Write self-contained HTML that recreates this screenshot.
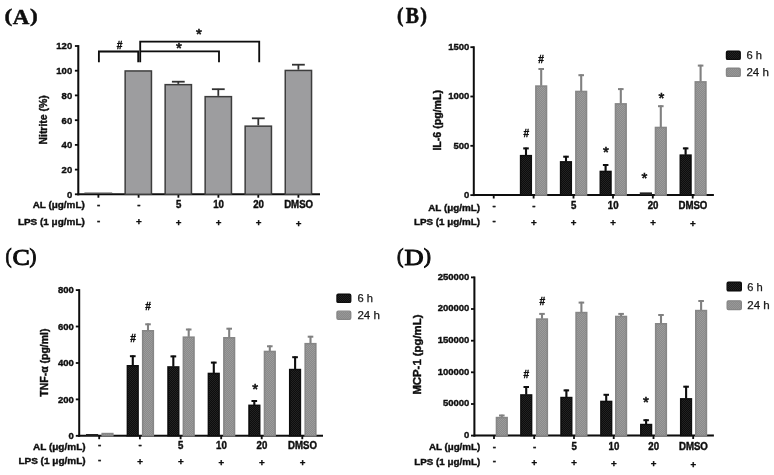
<!DOCTYPE html>
<html><head><meta charset="utf-8"><title>Figure</title>
<style>html,body{margin:0;padding:0;background:#fff}svg{display:block}text{fill:#0c0c0c;stroke:#0c0c0c;stroke-width:0.38px}</style></head>
<body><svg width="774" height="475" viewBox="0 0 774 475">
<rect width="774" height="475" fill="#fff"/>
<defs>
<filter id="soft" x="0" y="0" width="774" height="475" filterUnits="userSpaceOnUse"><feGaussianBlur stdDeviation="0.42"/></filter>
<pattern id="pg" width="2" height="2" patternUnits="userSpaceOnUse"><rect width="2" height="2" fill="#8a8a8a"/><rect width="1" height="1" fill="#9b9b9b"/><rect x="1" y="1" width="1" height="1" fill="#9b9b9b"/></pattern>
<pattern id="pg2" width="2" height="2" patternUnits="userSpaceOnUse"><rect width="2" height="2" fill="#8a8a8a"/><rect width="1" height="1" fill="#979797"/><rect x="1" y="1" width="1" height="1" fill="#979797"/></pattern>
<pattern id="pk" width="2" height="2" patternUnits="userSpaceOnUse"><rect width="2" height="2" fill="#0d0d0d"/><rect width="1" height="1" fill="#222222"/><rect x="1" y="1" width="1" height="1" fill="#222222"/></pattern>
</defs>
<g filter="url(#soft)">
<text transform="translate(4.57,22.39) scale(1.1678,0.9650)" font-size="20.0" font-weight="bold" font-family="'Liberation Serif', serif" style="stroke-width:0.45px">(</text>
<text transform="translate(12.87,24.40) scale(1.1489,1.0982)" font-size="20.0" font-weight="bold" font-family="'Liberation Serif', serif" style="stroke-width:0.45px">A</text>
<text transform="translate(30.05,22.39) scale(1.1678,0.9650)" font-size="20.0" font-weight="bold" font-family="'Liberation Serif', serif" style="stroke-width:0.45px">)</text>
<text transform="translate(397.05,22.39) scale(0.9731,1.0367)" font-size="20.0" font-weight="bold" font-family="'Liberation Serif', serif" style="stroke-width:0.45px">(</text>
<text transform="translate(405.67,23.33) scale(0.9878,1.1327)" font-size="20.0" font-weight="bold" font-family="'Liberation Serif', serif" style="stroke-width:0.45px">B</text>
<text transform="translate(420.25,22.39) scale(1.0121,1.0367)" font-size="20.0" font-weight="bold" font-family="'Liberation Serif', serif" style="stroke-width:0.45px">)</text>
<text transform="translate(5.40,262.67) scale(0.9148,1.0643)" font-size="20.0" font-weight="normal" font-family="'Liberation Serif', serif" style="stroke-width:0.85px">(</text>
<text transform="translate(12.44,264.67) scale(1.2964,1.1758)" font-size="20.0" font-weight="normal" font-family="'Liberation Serif', serif" style="stroke-width:0.85px">C</text>
<text transform="translate(29.44,262.67) scale(1.0315,1.0643)" font-size="20.0" font-weight="normal" font-family="'Liberation Serif', serif" style="stroke-width:0.85px">)</text>
<text transform="translate(397.05,262.67) scale(0.9731,1.0643)" font-size="20.0" font-weight="normal" font-family="'Liberation Serif', serif" style="stroke-width:0.85px">(</text>
<text transform="translate(404.54,264.85) scale(1.3240,1.1876)" font-size="20.0" font-weight="normal" font-family="'Liberation Serif', serif" style="stroke-width:0.85px">D</text>
<text transform="translate(423.70,262.67) scale(1.0899,1.0643)" font-size="20.0" font-weight="normal" font-family="'Liberation Serif', serif" style="stroke-width:0.85px">)</text>
<line x1="78.3" y1="45.1" x2="78.3" y2="195.3" stroke="#0a0a0a" stroke-width="2.0"/>
<line x1="77.3" y1="194.3" x2="320.0" y2="194.3" stroke="#0a0a0a" stroke-width="2.0"/>
<line x1="74.9" y1="194.3" x2="78.3" y2="194.3" stroke="#0a0a0a" stroke-width="1.8"/>
<text x="72.2" y="197.6" font-size="9.5" text-anchor="end" font-weight="bold" font-family="'Liberation Sans', sans-serif" >0</text>
<line x1="74.9" y1="169.6" x2="78.3" y2="169.6" stroke="#0a0a0a" stroke-width="1.8"/>
<text x="72.2" y="172.9" font-size="9.5" text-anchor="end" font-weight="bold" font-family="'Liberation Sans', sans-serif" >20</text>
<line x1="74.9" y1="144.9" x2="78.3" y2="144.9" stroke="#0a0a0a" stroke-width="1.8"/>
<text x="72.2" y="148.2" font-size="9.5" text-anchor="end" font-weight="bold" font-family="'Liberation Sans', sans-serif" >40</text>
<line x1="74.9" y1="120.2" x2="78.3" y2="120.2" stroke="#0a0a0a" stroke-width="1.8"/>
<text x="72.2" y="123.5" font-size="9.5" text-anchor="end" font-weight="bold" font-family="'Liberation Sans', sans-serif" >60</text>
<line x1="74.9" y1="95.4" x2="78.3" y2="95.4" stroke="#0a0a0a" stroke-width="1.8"/>
<text x="72.2" y="98.8" font-size="9.5" text-anchor="end" font-weight="bold" font-family="'Liberation Sans', sans-serif" >80</text>
<line x1="74.9" y1="70.7" x2="78.3" y2="70.7" stroke="#0a0a0a" stroke-width="1.8"/>
<text x="72.2" y="74.0" font-size="9.5" text-anchor="end" font-weight="bold" font-family="'Liberation Sans', sans-serif" >100</text>
<line x1="74.9" y1="46.0" x2="78.3" y2="46.0" stroke="#0a0a0a" stroke-width="1.8"/>
<text x="72.2" y="49.3" font-size="9.5" text-anchor="end" font-weight="bold" font-family="'Liberation Sans', sans-serif" >120</text>
<line x1="98.4" y1="194.3" x2="98.4" y2="197.7" stroke="#0a0a0a" stroke-width="1.8"/>
<line x1="138.6" y1="194.3" x2="138.6" y2="197.7" stroke="#0a0a0a" stroke-width="1.8"/>
<line x1="178.4" y1="194.3" x2="178.4" y2="197.7" stroke="#0a0a0a" stroke-width="1.8"/>
<line x1="218.4" y1="194.3" x2="218.4" y2="197.7" stroke="#0a0a0a" stroke-width="1.8"/>
<line x1="258.3" y1="194.3" x2="258.3" y2="197.7" stroke="#0a0a0a" stroke-width="1.8"/>
<line x1="298.4" y1="194.3" x2="298.4" y2="197.7" stroke="#0a0a0a" stroke-width="1.8"/>
<text x="84.8" y="207.9" font-size="9.3" text-anchor="end" font-weight="bold" font-family="'Liberation Sans', sans-serif" textLength="52.1" lengthAdjust="spacingAndGlyphs">AL (&#956;g/mL)</text>
<text x="84.8" y="224.8" font-size="9.3" text-anchor="end" font-weight="bold" font-family="'Liberation Sans', sans-serif" textLength="66.9" lengthAdjust="spacingAndGlyphs">LPS (1 &#956;g/mL)</text>
<text x="98.7" y="207.6" font-size="9.7" text-anchor="middle" font-weight="bold" font-family="'Liberation Sans', sans-serif" >-</text>
<text x="98.7" y="223.8" font-size="9.7" text-anchor="middle" font-weight="bold" font-family="'Liberation Sans', sans-serif" >-</text>
<text x="138.9" y="207.6" font-size="9.7" text-anchor="middle" font-weight="bold" font-family="'Liberation Sans', sans-serif" >-</text>
<text x="138.8" y="225.3" font-size="9.7" text-anchor="middle" font-weight="bold" font-family="'Liberation Sans', sans-serif" >+</text>
<text transform="translate(178.6,208.0) scale(0.995,1.075)" font-size="9.7" text-anchor="middle" font-weight="bold" font-family="'Liberation Sans', sans-serif">5</text>
<text x="178.6" y="225.5" font-size="9.7" text-anchor="middle" font-weight="bold" font-family="'Liberation Sans', sans-serif" >+</text>
<text transform="translate(218.6,208.0) scale(0.995,1.075)" font-size="9.7" text-anchor="middle" font-weight="bold" font-family="'Liberation Sans', sans-serif">10</text>
<text x="218.6" y="225.8" font-size="9.7" text-anchor="middle" font-weight="bold" font-family="'Liberation Sans', sans-serif" >+</text>
<text transform="translate(258.5,208.0) scale(0.995,1.075)" font-size="9.7" text-anchor="middle" font-weight="bold" font-family="'Liberation Sans', sans-serif">20</text>
<text x="258.5" y="226.1" font-size="9.7" text-anchor="middle" font-weight="bold" font-family="'Liberation Sans', sans-serif" >+</text>
<text transform="translate(298.6,208.0) scale(0.995,1.075)" font-size="9.7" text-anchor="middle" font-weight="bold" font-family="'Liberation Sans', sans-serif">DMSO</text>
<text x="298.6" y="226.5" font-size="9.7" text-anchor="middle" font-weight="bold" font-family="'Liberation Sans', sans-serif" >+</text>
<text transform="translate(47.1,119.9) rotate(-90)" font-size="10.4" text-anchor="middle" font-weight="bold" font-family="'Liberation Sans', sans-serif" textLength="49.3" lengthAdjust="spacingAndGlyphs">Nitrite (%)</text>
<line x1="84.4" y1="193.0" x2="112.2" y2="193.0" stroke="#555" stroke-width="1.0"/>
<rect x="125.15" y="70.95" width="26.30" height="123.35" fill="#9d9d9f" stroke="#3e3e3e" stroke-width="1.5"/>
<line x1="178.3" y1="81.4" x2="178.3" y2="83.9" stroke="#333" stroke-width="1.8"/>
<line x1="171.9" y1="81.7" x2="184.7" y2="81.7" stroke="#333" stroke-width="1.8"/>
<rect x="165.15" y="84.65" width="26.30" height="109.65" fill="#9d9d9f" stroke="#3e3e3e" stroke-width="1.5"/>
<line x1="218.3" y1="88.9" x2="218.3" y2="95.9" stroke="#333" stroke-width="1.8"/>
<line x1="211.9" y1="89.2" x2="224.7" y2="89.2" stroke="#333" stroke-width="1.8"/>
<rect x="205.15" y="96.65" width="26.30" height="97.65" fill="#9d9d9f" stroke="#3e3e3e" stroke-width="1.5"/>
<line x1="258.3" y1="118.0" x2="258.3" y2="125.4" stroke="#333" stroke-width="1.8"/>
<line x1="251.9" y1="118.3" x2="264.7" y2="118.3" stroke="#333" stroke-width="1.8"/>
<rect x="245.15" y="126.15" width="26.30" height="68.15" fill="#9d9d9f" stroke="#3e3e3e" stroke-width="1.5"/>
<line x1="298.4" y1="64.4" x2="298.4" y2="69.7" stroke="#333" stroke-width="1.8"/>
<line x1="292.0" y1="64.7" x2="304.8" y2="64.7" stroke="#333" stroke-width="1.8"/>
<rect x="285.25" y="70.45" width="26.30" height="123.85" fill="#9d9d9f" stroke="#3e3e3e" stroke-width="1.5"/>
<path d="M98.9 62.2V51.5H138.2V62.2" fill="none" stroke="#0a0a0a" stroke-width="1.85"/>
<path d="M219 62.2V51.4H140.2" fill="none" stroke="#0a0a0a" stroke-width="1.85"/>
<path d="M140.2 62.2V41.6H259.2V62.2" fill="none" stroke="#0a0a0a" stroke-width="1.85"/>
<text x="119.6" y="48.6" font-size="10.2" text-anchor="middle" font-weight="bold" font-family="'Liberation Sans', sans-serif" >#</text>
<text x="178.8" y="52.7" font-size="15" text-anchor="middle" font-weight="normal" font-family="'Liberation Sans', sans-serif" style="stroke-width:0.6px">*</text>
<text x="198.9" y="39.1" font-size="15" text-anchor="middle" font-weight="normal" font-family="'Liberation Sans', sans-serif" style="stroke-width:0.6px">*</text>
<line x1="473.8" y1="46.3" x2="473.8" y2="196.1" stroke="#0a0a0a" stroke-width="2.0"/>
<line x1="472.8" y1="195.1" x2="713.9" y2="195.1" stroke="#0a0a0a" stroke-width="2.0"/>
<line x1="470.4" y1="195.1" x2="473.8" y2="195.1" stroke="#0a0a0a" stroke-width="1.8"/>
<text x="469.4" y="197.9" font-size="9.5" text-anchor="end" font-weight="bold" font-family="'Liberation Sans', sans-serif" >0</text>
<line x1="470.4" y1="145.8" x2="473.8" y2="145.8" stroke="#0a0a0a" stroke-width="1.8"/>
<text x="469.4" y="148.6" font-size="9.5" text-anchor="end" font-weight="bold" font-family="'Liberation Sans', sans-serif" >500</text>
<line x1="470.4" y1="96.5" x2="473.8" y2="96.5" stroke="#0a0a0a" stroke-width="1.8"/>
<text x="469.4" y="99.3" font-size="9.5" text-anchor="end" font-weight="bold" font-family="'Liberation Sans', sans-serif" >1000</text>
<line x1="470.4" y1="47.2" x2="473.8" y2="47.2" stroke="#0a0a0a" stroke-width="1.8"/>
<text x="469.4" y="50.0" font-size="9.5" text-anchor="end" font-weight="bold" font-family="'Liberation Sans', sans-serif" >1500</text>
<line x1="493.7" y1="195.1" x2="493.7" y2="198.5" stroke="#0a0a0a" stroke-width="1.8"/>
<line x1="533.6" y1="195.1" x2="533.6" y2="198.5" stroke="#0a0a0a" stroke-width="1.8"/>
<line x1="573.5" y1="195.1" x2="573.5" y2="198.5" stroke="#0a0a0a" stroke-width="1.8"/>
<line x1="613.0" y1="195.1" x2="613.0" y2="198.5" stroke="#0a0a0a" stroke-width="1.8"/>
<line x1="652.8" y1="195.1" x2="652.8" y2="198.5" stroke="#0a0a0a" stroke-width="1.8"/>
<line x1="692.7" y1="195.1" x2="692.7" y2="198.5" stroke="#0a0a0a" stroke-width="1.8"/>
<text x="480.1" y="210.5" font-size="9.3" text-anchor="end" font-weight="bold" font-family="'Liberation Sans', sans-serif" textLength="51.9" lengthAdjust="spacingAndGlyphs">AL (&#956;g/mL)</text>
<text x="480.1" y="224.7" font-size="9.3" text-anchor="end" font-weight="bold" font-family="'Liberation Sans', sans-serif" textLength="66.1" lengthAdjust="spacingAndGlyphs">LPS (1 &#956;g/mL)</text>
<text x="494.0" y="208.6" font-size="9.7" text-anchor="middle" font-weight="bold" font-family="'Liberation Sans', sans-serif" >-</text>
<text x="494.0" y="223.8" font-size="9.7" text-anchor="middle" font-weight="bold" font-family="'Liberation Sans', sans-serif" >-</text>
<text x="533.9" y="208.6" font-size="9.7" text-anchor="middle" font-weight="bold" font-family="'Liberation Sans', sans-serif" >-</text>
<text x="533.8" y="226.1" font-size="9.7" text-anchor="middle" font-weight="bold" font-family="'Liberation Sans', sans-serif" >+</text>
<text transform="translate(573.7,209.0) scale(0.995,1.075)" font-size="9.7" text-anchor="middle" font-weight="bold" font-family="'Liberation Sans', sans-serif">5</text>
<text x="573.7" y="225.9" font-size="9.7" text-anchor="middle" font-weight="bold" font-family="'Liberation Sans', sans-serif" >+</text>
<text transform="translate(613.2,209.0) scale(0.995,1.075)" font-size="9.7" text-anchor="middle" font-weight="bold" font-family="'Liberation Sans', sans-serif">10</text>
<text x="613.2" y="225.9" font-size="9.7" text-anchor="middle" font-weight="bold" font-family="'Liberation Sans', sans-serif" >+</text>
<text transform="translate(653.0,209.0) scale(0.995,1.075)" font-size="9.7" text-anchor="middle" font-weight="bold" font-family="'Liberation Sans', sans-serif">20</text>
<text x="653.0" y="226.0" font-size="9.7" text-anchor="middle" font-weight="bold" font-family="'Liberation Sans', sans-serif" >+</text>
<text transform="translate(692.9,209.0) scale(0.995,1.075)" font-size="9.7" text-anchor="middle" font-weight="bold" font-family="'Liberation Sans', sans-serif">DMSO</text>
<text x="692.9" y="226.7" font-size="9.7" text-anchor="middle" font-weight="bold" font-family="'Liberation Sans', sans-serif" >+</text>
<text transform="translate(441.2,120.3) rotate(-90)" font-size="10.4" text-anchor="middle" font-weight="bold" font-family="'Liberation Sans', sans-serif" textLength="60.6" lengthAdjust="spacingAndGlyphs">IL-6 (pg/mL)</text>
<line x1="526.0" y1="147.6" x2="526.0" y2="155.4" stroke="#0a0a0a" stroke-width="2.1"/>
<line x1="523.2" y1="148.4" x2="528.8" y2="148.4" stroke="#0a0a0a" stroke-width="2.0"/>
<rect x="520.55" y="155.60" width="10.80" height="39.50" fill="url(#pk)" stroke="#0a0a0a" stroke-width="1.4"/>
<line x1="566.0" y1="155.9" x2="566.0" y2="161.6" stroke="#0a0a0a" stroke-width="2.1"/>
<line x1="563.2" y1="156.7" x2="568.8" y2="156.7" stroke="#0a0a0a" stroke-width="2.0"/>
<rect x="560.55" y="161.80" width="10.80" height="33.30" fill="url(#pk)" stroke="#0a0a0a" stroke-width="1.4"/>
<line x1="605.6" y1="164.2" x2="605.6" y2="171.2" stroke="#0a0a0a" stroke-width="2.1"/>
<line x1="602.9" y1="165.0" x2="608.4" y2="165.0" stroke="#0a0a0a" stroke-width="2.0"/>
<rect x="600.25" y="171.40" width="10.80" height="23.70" fill="url(#pk)" stroke="#0a0a0a" stroke-width="1.4"/>
<rect x="639.8" y="192.4" width="12.2" height="2.7" fill="#222"/>
<line x1="685.6" y1="147.6" x2="685.6" y2="154.9" stroke="#0a0a0a" stroke-width="2.1"/>
<line x1="682.9" y1="148.4" x2="688.4" y2="148.4" stroke="#0a0a0a" stroke-width="2.0"/>
<rect x="680.25" y="155.10" width="10.80" height="40.00" fill="url(#pk)" stroke="#0a0a0a" stroke-width="1.4"/>
<line x1="541.2" y1="68.2" x2="541.2" y2="85.8" stroke="#808080" stroke-width="2.1"/>
<line x1="538.4" y1="69.0" x2="544.0" y2="69.0" stroke="#808080" stroke-width="2.0"/>
<rect x="535.90" y="86.10" width="10.60" height="109.00" fill="url(#pg)" stroke="#868686" stroke-width="1.6"/>
<line x1="581.2" y1="74.4" x2="581.2" y2="91.2" stroke="#808080" stroke-width="2.1"/>
<line x1="578.4" y1="75.2" x2="584.0" y2="75.2" stroke="#808080" stroke-width="2.0"/>
<rect x="575.90" y="91.50" width="10.60" height="103.60" fill="url(#pg)" stroke="#868686" stroke-width="1.6"/>
<line x1="620.8" y1="88.3" x2="620.8" y2="103.6" stroke="#808080" stroke-width="2.1"/>
<line x1="618.0" y1="89.1" x2="623.6" y2="89.1" stroke="#808080" stroke-width="2.0"/>
<rect x="615.50" y="103.90" width="10.60" height="91.20" fill="url(#pg)" stroke="#868686" stroke-width="1.6"/>
<line x1="660.8" y1="105.4" x2="660.8" y2="127.2" stroke="#808080" stroke-width="2.1"/>
<line x1="658.0" y1="106.2" x2="663.6" y2="106.2" stroke="#808080" stroke-width="2.0"/>
<rect x="655.50" y="127.50" width="10.60" height="67.60" fill="url(#pg)" stroke="#868686" stroke-width="1.6"/>
<line x1="700.6" y1="64.8" x2="700.6" y2="81.6" stroke="#808080" stroke-width="2.1"/>
<line x1="697.8" y1="65.6" x2="703.4" y2="65.6" stroke="#808080" stroke-width="2.0"/>
<rect x="695.30" y="81.90" width="10.60" height="113.20" fill="url(#pg)" stroke="#868686" stroke-width="1.6"/>
<text x="541.1" y="63.2" font-size="10.2" text-anchor="middle" font-weight="bold" font-family="'Liberation Sans', sans-serif" >#</text>
<text x="526.4" y="136.8" font-size="10.2" text-anchor="middle" font-weight="bold" font-family="'Liberation Sans', sans-serif" >#</text>
<text x="605.9" y="156.7" font-size="15" text-anchor="middle" font-weight="normal" font-family="'Liberation Sans', sans-serif" style="stroke-width:0.6px">*</text>
<text x="644.5" y="182.6" font-size="15" text-anchor="middle" font-weight="normal" font-family="'Liberation Sans', sans-serif" style="stroke-width:0.6px">*</text>
<text x="661.3" y="102.6" font-size="15" text-anchor="middle" font-weight="normal" font-family="'Liberation Sans', sans-serif" style="stroke-width:0.6px">*</text>
<rect x="726.45" y="51.25" width="13.80" height="8.20" fill="url(#pk)" stroke="#0a0a0a" stroke-width="1.3" rx="1.3"/>
<rect x="726.45" y="68.25" width="13.80" height="8.20" fill="url(#pg2)" stroke="#868686" stroke-width="1.3" rx="1.3"/>
<text x="746.4" y="59.0" font-size="10.4" text-anchor="start" font-weight="normal" font-family="'Liberation Sans', sans-serif" textLength="15.5" lengthAdjust="spacingAndGlyphs" style="stroke-width:0.25px;fill:#1a1a1a;stroke:#1a1a1a">6 h</text>
<text x="746.4" y="76.4" font-size="10.4" text-anchor="start" font-weight="normal" font-family="'Liberation Sans', sans-serif" textLength="22.5" lengthAdjust="spacingAndGlyphs" style="stroke-width:0.25px;fill:#1a1a1a;stroke:#1a1a1a">24 h</text>
<line x1="79.2" y1="289.2" x2="79.2" y2="436.8" stroke="#0a0a0a" stroke-width="2.0"/>
<line x1="78.2" y1="435.8" x2="323.0" y2="435.8" stroke="#0a0a0a" stroke-width="2.0"/>
<line x1="75.8" y1="435.8" x2="79.2" y2="435.8" stroke="#0a0a0a" stroke-width="1.8"/>
<text x="73.9" y="439.1" font-size="9.5" text-anchor="end" font-weight="bold" font-family="'Liberation Sans', sans-serif" >0</text>
<line x1="75.8" y1="399.4" x2="79.2" y2="399.4" stroke="#0a0a0a" stroke-width="1.8"/>
<text x="73.9" y="402.7" font-size="9.5" text-anchor="end" font-weight="bold" font-family="'Liberation Sans', sans-serif" >200</text>
<line x1="75.8" y1="363.0" x2="79.2" y2="363.0" stroke="#0a0a0a" stroke-width="1.8"/>
<text x="73.9" y="366.3" font-size="9.5" text-anchor="end" font-weight="bold" font-family="'Liberation Sans', sans-serif" >400</text>
<line x1="75.8" y1="326.5" x2="79.2" y2="326.5" stroke="#0a0a0a" stroke-width="1.8"/>
<text x="73.9" y="329.8" font-size="9.5" text-anchor="end" font-weight="bold" font-family="'Liberation Sans', sans-serif" >600</text>
<line x1="75.8" y1="290.1" x2="79.2" y2="290.1" stroke="#0a0a0a" stroke-width="1.8"/>
<text x="73.9" y="293.4" font-size="9.5" text-anchor="end" font-weight="bold" font-family="'Liberation Sans', sans-serif" >800</text>
<line x1="99.2" y1="435.8" x2="99.2" y2="439.2" stroke="#0a0a0a" stroke-width="1.8"/>
<line x1="139.9" y1="435.8" x2="139.9" y2="439.2" stroke="#0a0a0a" stroke-width="1.8"/>
<line x1="180.6" y1="435.8" x2="180.6" y2="439.2" stroke="#0a0a0a" stroke-width="1.8"/>
<line x1="221.2" y1="435.8" x2="221.2" y2="439.2" stroke="#0a0a0a" stroke-width="1.8"/>
<line x1="261.7" y1="435.8" x2="261.7" y2="439.2" stroke="#0a0a0a" stroke-width="1.8"/>
<line x1="302.3" y1="435.8" x2="302.3" y2="439.2" stroke="#0a0a0a" stroke-width="1.8"/>
<text x="85.6" y="449.9" font-size="9.3" text-anchor="end" font-weight="bold" font-family="'Liberation Sans', sans-serif" textLength="52.6" lengthAdjust="spacingAndGlyphs">AL (&#956;g/mL)</text>
<text x="85.6" y="463.6" font-size="9.3" text-anchor="end" font-weight="bold" font-family="'Liberation Sans', sans-serif" textLength="67.2" lengthAdjust="spacingAndGlyphs">LPS (1 &#956;g/mL)</text>
<text x="99.5" y="448.4" font-size="9.7" text-anchor="middle" font-weight="bold" font-family="'Liberation Sans', sans-serif" >-</text>
<text x="99.5" y="463.0" font-size="9.7" text-anchor="middle" font-weight="bold" font-family="'Liberation Sans', sans-serif" >-</text>
<text x="140.2" y="448.4" font-size="9.7" text-anchor="middle" font-weight="bold" font-family="'Liberation Sans', sans-serif" >-</text>
<text x="140.1" y="465.2" font-size="9.7" text-anchor="middle" font-weight="bold" font-family="'Liberation Sans', sans-serif" >+</text>
<text transform="translate(180.8,449.2) scale(0.995,1.075)" font-size="9.7" text-anchor="middle" font-weight="bold" font-family="'Liberation Sans', sans-serif">5</text>
<text x="180.8" y="465.1" font-size="9.7" text-anchor="middle" font-weight="bold" font-family="'Liberation Sans', sans-serif" >+</text>
<text transform="translate(221.4,449.2) scale(0.995,1.075)" font-size="9.7" text-anchor="middle" font-weight="bold" font-family="'Liberation Sans', sans-serif">10</text>
<text x="221.4" y="465.8" font-size="9.7" text-anchor="middle" font-weight="bold" font-family="'Liberation Sans', sans-serif" >+</text>
<text transform="translate(261.9,449.2) scale(0.995,1.075)" font-size="9.7" text-anchor="middle" font-weight="bold" font-family="'Liberation Sans', sans-serif">20</text>
<text x="261.9" y="466.2" font-size="9.7" text-anchor="middle" font-weight="bold" font-family="'Liberation Sans', sans-serif" >+</text>
<text transform="translate(302.5,449.2) scale(0.995,1.075)" font-size="9.7" text-anchor="middle" font-weight="bold" font-family="'Liberation Sans', sans-serif">DMSO</text>
<text x="302.5" y="466.2" font-size="9.7" text-anchor="middle" font-weight="bold" font-family="'Liberation Sans', sans-serif" >+</text>
<text transform="translate(47.5,362.6) rotate(-90)" font-size="10.4" text-anchor="middle" font-weight="bold" font-family="'Liberation Sans', sans-serif" textLength="68.2" lengthAdjust="spacingAndGlyphs">TNF-&#945; (pg/ml)</text>
<rect x="86.0" y="434.0" width="12.2" height="1.8" fill="#222"/>
<line x1="132.8" y1="355.4" x2="132.8" y2="365.5" stroke="#0a0a0a" stroke-width="2.1"/>
<line x1="129.9" y1="356.2" x2="135.6" y2="356.2" stroke="#0a0a0a" stroke-width="2.0"/>
<rect x="127.35" y="365.70" width="10.80" height="70.10" fill="url(#pk)" stroke="#0a0a0a" stroke-width="1.4"/>
<line x1="173.3" y1="355.6" x2="173.3" y2="366.7" stroke="#0a0a0a" stroke-width="2.1"/>
<line x1="170.5" y1="356.4" x2="176.2" y2="356.4" stroke="#0a0a0a" stroke-width="2.0"/>
<rect x="167.95" y="366.90" width="10.80" height="68.90" fill="url(#pk)" stroke="#0a0a0a" stroke-width="1.4"/>
<line x1="213.8" y1="361.8" x2="213.8" y2="373.2" stroke="#0a0a0a" stroke-width="2.1"/>
<line x1="210.9" y1="362.6" x2="216.6" y2="362.6" stroke="#0a0a0a" stroke-width="2.0"/>
<rect x="208.35" y="373.40" width="10.80" height="62.40" fill="url(#pk)" stroke="#0a0a0a" stroke-width="1.4"/>
<line x1="254.3" y1="400.2" x2="254.3" y2="405.1" stroke="#0a0a0a" stroke-width="2.1"/>
<line x1="251.5" y1="401.0" x2="257.1" y2="401.0" stroke="#0a0a0a" stroke-width="2.0"/>
<rect x="248.95" y="405.30" width="10.80" height="30.50" fill="url(#pk)" stroke="#0a0a0a" stroke-width="1.4"/>
<line x1="295.1" y1="356.4" x2="295.1" y2="369.3" stroke="#0a0a0a" stroke-width="2.1"/>
<line x1="292.2" y1="357.2" x2="297.9" y2="357.2" stroke="#0a0a0a" stroke-width="2.0"/>
<rect x="289.65" y="369.50" width="10.80" height="66.30" fill="url(#pk)" stroke="#0a0a0a" stroke-width="1.4"/>
<rect x="102.20" y="433.60" width="10.60" height="2.20" fill="url(#pg)" stroke="#868686" stroke-width="1.6"/>
<line x1="148.0" y1="323.5" x2="148.0" y2="330.5" stroke="#808080" stroke-width="2.1"/>
<line x1="145.2" y1="324.3" x2="150.8" y2="324.3" stroke="#808080" stroke-width="2.0"/>
<rect x="142.70" y="330.80" width="10.60" height="105.00" fill="url(#pg)" stroke="#868686" stroke-width="1.6"/>
<line x1="188.7" y1="328.7" x2="188.7" y2="336.9" stroke="#808080" stroke-width="2.1"/>
<line x1="185.9" y1="329.5" x2="191.5" y2="329.5" stroke="#808080" stroke-width="2.0"/>
<rect x="183.40" y="337.20" width="10.60" height="98.60" fill="url(#pg)" stroke="#868686" stroke-width="1.6"/>
<line x1="229.2" y1="327.9" x2="229.2" y2="337.5" stroke="#808080" stroke-width="2.1"/>
<line x1="226.4" y1="328.7" x2="232.0" y2="328.7" stroke="#808080" stroke-width="2.0"/>
<rect x="223.90" y="337.80" width="10.60" height="98.00" fill="url(#pg)" stroke="#868686" stroke-width="1.6"/>
<line x1="269.8" y1="345.5" x2="269.8" y2="351.2" stroke="#808080" stroke-width="2.1"/>
<line x1="267.0" y1="346.3" x2="272.6" y2="346.3" stroke="#808080" stroke-width="2.0"/>
<rect x="264.50" y="351.50" width="10.60" height="84.30" fill="url(#pg)" stroke="#868686" stroke-width="1.6"/>
<line x1="310.5" y1="335.9" x2="310.5" y2="343.4" stroke="#808080" stroke-width="2.1"/>
<line x1="307.7" y1="336.7" x2="313.3" y2="336.7" stroke="#808080" stroke-width="2.0"/>
<rect x="305.20" y="343.70" width="10.60" height="92.10" fill="url(#pg)" stroke="#868686" stroke-width="1.6"/>
<text x="148.2" y="309.8" font-size="10.2" text-anchor="middle" font-weight="bold" font-family="'Liberation Sans', sans-serif" >#</text>
<text x="133.2" y="341.9" font-size="10.2" text-anchor="middle" font-weight="bold" font-family="'Liberation Sans', sans-serif" >#</text>
<text x="255.1" y="393.7" font-size="15" text-anchor="middle" font-weight="normal" font-family="'Liberation Sans', sans-serif" style="stroke-width:0.6px">*</text>
<rect x="336.95" y="294.25" width="13.80" height="8.20" fill="url(#pk)" stroke="#0a0a0a" stroke-width="1.3" rx="1.3"/>
<rect x="336.95" y="311.15" width="13.80" height="8.20" fill="url(#pg2)" stroke="#868686" stroke-width="1.3" rx="1.3"/>
<text x="357.4" y="302.0" font-size="10.4" text-anchor="start" font-weight="normal" font-family="'Liberation Sans', sans-serif" textLength="15.5" lengthAdjust="spacingAndGlyphs" style="stroke-width:0.25px;fill:#1a1a1a;stroke:#1a1a1a">6 h</text>
<text x="357.4" y="319.4" font-size="10.4" text-anchor="start" font-weight="normal" font-family="'Liberation Sans', sans-serif" textLength="22.5" lengthAdjust="spacingAndGlyphs" style="stroke-width:0.25px;fill:#1a1a1a;stroke:#1a1a1a">24 h</text>
<line x1="474.4" y1="276.5" x2="474.4" y2="436.6" stroke="#0a0a0a" stroke-width="2.0"/>
<line x1="473.4" y1="435.6" x2="713.9" y2="435.6" stroke="#0a0a0a" stroke-width="2.0"/>
<line x1="471.0" y1="435.6" x2="474.4" y2="435.6" stroke="#0a0a0a" stroke-width="1.8"/>
<text x="469.4" y="437.9" font-size="9.5" text-anchor="end" font-weight="bold" font-family="'Liberation Sans', sans-serif" >0</text>
<line x1="471.0" y1="404.0" x2="474.4" y2="404.0" stroke="#0a0a0a" stroke-width="1.8"/>
<text x="469.4" y="406.3" font-size="9.5" text-anchor="end" font-weight="bold" font-family="'Liberation Sans', sans-serif" >50000</text>
<line x1="471.0" y1="372.3" x2="474.4" y2="372.3" stroke="#0a0a0a" stroke-width="1.8"/>
<text x="469.4" y="374.6" font-size="9.5" text-anchor="end" font-weight="bold" font-family="'Liberation Sans', sans-serif" >100000</text>
<line x1="471.0" y1="340.7" x2="474.4" y2="340.7" stroke="#0a0a0a" stroke-width="1.8"/>
<text x="469.4" y="343.0" font-size="9.5" text-anchor="end" font-weight="bold" font-family="'Liberation Sans', sans-serif" >150000</text>
<line x1="471.0" y1="309.0" x2="474.4" y2="309.0" stroke="#0a0a0a" stroke-width="1.8"/>
<text x="469.4" y="311.4" font-size="9.5" text-anchor="end" font-weight="bold" font-family="'Liberation Sans', sans-serif" >200000</text>
<line x1="471.0" y1="277.4" x2="474.4" y2="277.4" stroke="#0a0a0a" stroke-width="1.8"/>
<text x="469.4" y="279.7" font-size="9.5" text-anchor="end" font-weight="bold" font-family="'Liberation Sans', sans-serif" >250000</text>
<line x1="494.0" y1="435.6" x2="494.0" y2="439.0" stroke="#0a0a0a" stroke-width="1.8"/>
<line x1="534.2" y1="435.6" x2="534.2" y2="439.0" stroke="#0a0a0a" stroke-width="1.8"/>
<line x1="574.0" y1="435.6" x2="574.0" y2="439.0" stroke="#0a0a0a" stroke-width="1.8"/>
<line x1="613.7" y1="435.6" x2="613.7" y2="439.0" stroke="#0a0a0a" stroke-width="1.8"/>
<line x1="653.5" y1="435.6" x2="653.5" y2="439.0" stroke="#0a0a0a" stroke-width="1.8"/>
<line x1="693.2" y1="435.6" x2="693.2" y2="439.0" stroke="#0a0a0a" stroke-width="1.8"/>
<text x="480.2" y="450.2" font-size="9.3" text-anchor="end" font-weight="bold" font-family="'Liberation Sans', sans-serif" textLength="51.3" lengthAdjust="spacingAndGlyphs">AL (&#956;g/mL)</text>
<text x="480.2" y="465.2" font-size="9.3" text-anchor="end" font-weight="bold" font-family="'Liberation Sans', sans-serif" textLength="65.9" lengthAdjust="spacingAndGlyphs">LPS (1 &#956;g/mL)</text>
<text x="494.3" y="449.5" font-size="9.7" text-anchor="middle" font-weight="bold" font-family="'Liberation Sans', sans-serif" >-</text>
<text x="494.3" y="463.7" font-size="9.7" text-anchor="middle" font-weight="bold" font-family="'Liberation Sans', sans-serif" >-</text>
<text x="534.5" y="449.5" font-size="9.7" text-anchor="middle" font-weight="bold" font-family="'Liberation Sans', sans-serif" >-</text>
<text x="534.4" y="466.1" font-size="9.7" text-anchor="middle" font-weight="bold" font-family="'Liberation Sans', sans-serif" >+</text>
<text transform="translate(574.2,450.4) scale(0.995,1.075)" font-size="9.7" text-anchor="middle" font-weight="bold" font-family="'Liberation Sans', sans-serif">5</text>
<text x="574.2" y="466.2" font-size="9.7" text-anchor="middle" font-weight="bold" font-family="'Liberation Sans', sans-serif" >+</text>
<text transform="translate(613.9,450.4) scale(0.995,1.075)" font-size="9.7" text-anchor="middle" font-weight="bold" font-family="'Liberation Sans', sans-serif">10</text>
<text x="613.9" y="466.8" font-size="9.7" text-anchor="middle" font-weight="bold" font-family="'Liberation Sans', sans-serif" >+</text>
<text transform="translate(653.7,450.4) scale(0.995,1.075)" font-size="9.7" text-anchor="middle" font-weight="bold" font-family="'Liberation Sans', sans-serif">20</text>
<text x="653.7" y="467.2" font-size="9.7" text-anchor="middle" font-weight="bold" font-family="'Liberation Sans', sans-serif" >+</text>
<text transform="translate(693.4,450.4) scale(0.995,1.075)" font-size="9.7" text-anchor="middle" font-weight="bold" font-family="'Liberation Sans', sans-serif">DMSO</text>
<text x="693.4" y="467.6" font-size="9.7" text-anchor="middle" font-weight="bold" font-family="'Liberation Sans', sans-serif" >+</text>
<text transform="translate(421.4,354.6) rotate(-90)" font-size="10.6" text-anchor="middle" font-weight="bold" font-family="'Liberation Sans', sans-serif" textLength="80" lengthAdjust="spacingAndGlyphs">MCP-1 (pg/mL)</text>
<line x1="526.2" y1="386.2" x2="526.2" y2="394.7" stroke="#0a0a0a" stroke-width="2.1"/>
<line x1="523.5" y1="387.0" x2="529.0" y2="387.0" stroke="#0a0a0a" stroke-width="2.0"/>
<rect x="520.85" y="394.90" width="10.80" height="40.70" fill="url(#pk)" stroke="#0a0a0a" stroke-width="1.4"/>
<line x1="566.4" y1="389.6" x2="566.4" y2="397.3" stroke="#0a0a0a" stroke-width="2.1"/>
<line x1="563.6" y1="390.4" x2="569.1" y2="390.4" stroke="#0a0a0a" stroke-width="2.0"/>
<rect x="560.95" y="397.50" width="10.80" height="38.10" fill="url(#pk)" stroke="#0a0a0a" stroke-width="1.4"/>
<line x1="606.2" y1="394.0" x2="606.2" y2="401.2" stroke="#0a0a0a" stroke-width="2.1"/>
<line x1="603.5" y1="394.8" x2="609.0" y2="394.8" stroke="#0a0a0a" stroke-width="2.0"/>
<rect x="600.85" y="401.40" width="10.80" height="34.20" fill="url(#pk)" stroke="#0a0a0a" stroke-width="1.4"/>
<line x1="646.1" y1="419.4" x2="646.1" y2="424.3" stroke="#0a0a0a" stroke-width="2.1"/>
<line x1="643.4" y1="420.2" x2="648.9" y2="420.2" stroke="#0a0a0a" stroke-width="2.0"/>
<rect x="640.75" y="424.50" width="10.80" height="11.10" fill="url(#pk)" stroke="#0a0a0a" stroke-width="1.4"/>
<line x1="686.1" y1="385.9" x2="686.1" y2="398.6" stroke="#0a0a0a" stroke-width="2.1"/>
<line x1="683.3" y1="386.7" x2="688.9" y2="386.7" stroke="#0a0a0a" stroke-width="2.0"/>
<rect x="680.65" y="398.80" width="10.80" height="36.80" fill="url(#pk)" stroke="#0a0a0a" stroke-width="1.4"/>
<line x1="501.8" y1="414.7" x2="501.8" y2="417.3" stroke="#808080" stroke-width="2.1"/>
<line x1="499.0" y1="415.5" x2="504.6" y2="415.5" stroke="#808080" stroke-width="2.0"/>
<rect x="496.50" y="417.60" width="10.60" height="18.00" fill="url(#pg)" stroke="#868686" stroke-width="1.6"/>
<line x1="542.0" y1="313.1" x2="542.0" y2="318.8" stroke="#808080" stroke-width="2.1"/>
<line x1="539.2" y1="313.9" x2="544.8" y2="313.9" stroke="#808080" stroke-width="2.0"/>
<rect x="536.70" y="319.10" width="10.60" height="116.50" fill="url(#pg)" stroke="#868686" stroke-width="1.6"/>
<line x1="581.4" y1="301.8" x2="581.4" y2="312.3" stroke="#808080" stroke-width="2.1"/>
<line x1="578.6" y1="302.6" x2="584.2" y2="302.6" stroke="#808080" stroke-width="2.0"/>
<rect x="576.10" y="312.60" width="10.60" height="123.00" fill="url(#pg)" stroke="#868686" stroke-width="1.6"/>
<line x1="621.1" y1="313.1" x2="621.1" y2="316.2" stroke="#808080" stroke-width="2.1"/>
<line x1="618.3" y1="313.9" x2="623.9" y2="313.9" stroke="#808080" stroke-width="2.0"/>
<rect x="615.80" y="316.50" width="10.60" height="119.10" fill="url(#pg)" stroke="#868686" stroke-width="1.6"/>
<line x1="661.0" y1="314.2" x2="661.0" y2="323.5" stroke="#808080" stroke-width="2.1"/>
<line x1="658.2" y1="315.0" x2="663.8" y2="315.0" stroke="#808080" stroke-width="2.0"/>
<rect x="655.70" y="323.80" width="10.60" height="111.80" fill="url(#pg)" stroke="#868686" stroke-width="1.6"/>
<line x1="701.1" y1="300.2" x2="701.1" y2="310.3" stroke="#808080" stroke-width="2.1"/>
<line x1="698.3" y1="301.0" x2="703.9" y2="301.0" stroke="#808080" stroke-width="2.0"/>
<rect x="695.80" y="310.60" width="10.60" height="125.00" fill="url(#pg)" stroke="#868686" stroke-width="1.6"/>
<text x="542.4" y="304.6" font-size="10.2" text-anchor="middle" font-weight="bold" font-family="'Liberation Sans', sans-serif" >#</text>
<text x="526.4" y="378.4" font-size="10.2" text-anchor="middle" font-weight="bold" font-family="'Liberation Sans', sans-serif" >#</text>
<text x="646.0" y="407.1" font-size="15" text-anchor="middle" font-weight="normal" font-family="'Liberation Sans', sans-serif" style="stroke-width:0.6px">*</text>
<rect x="727.15" y="282.25" width="14.20" height="8.70" fill="url(#pk)" stroke="#0a0a0a" stroke-width="1.3" rx="1.3"/>
<rect x="727.15" y="300.85" width="14.20" height="8.70" fill="url(#pg2)" stroke="#868686" stroke-width="1.3" rx="1.3"/>
<text x="747.3" y="290.5" font-size="10.6" text-anchor="start" font-weight="normal" font-family="'Liberation Sans', sans-serif" textLength="15.5" lengthAdjust="spacingAndGlyphs" style="stroke-width:0.25px;fill:#1a1a1a;stroke:#1a1a1a">6 h</text>
<text x="747.3" y="308.8" font-size="10.6" text-anchor="start" font-weight="normal" font-family="'Liberation Sans', sans-serif" textLength="22.5" lengthAdjust="spacingAndGlyphs" style="stroke-width:0.25px;fill:#1a1a1a;stroke:#1a1a1a">24 h</text>
</g>
</svg></body></html>
